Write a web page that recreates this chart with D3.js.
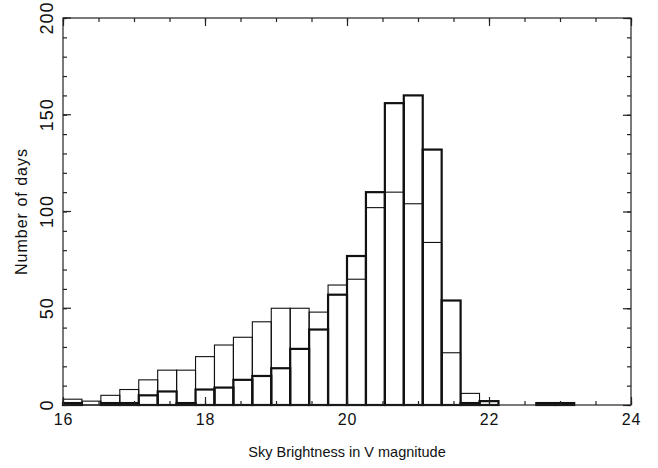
<!DOCTYPE html>
<html>
<head>
<meta charset="utf-8">
<script src="https://cdn.jsdelivr.net/npm/d3@7"></script>
<style>
  body { margin: 0; background: #fff; }
  text { font-family: "Liberation Sans", Arial, sans-serif; fill: #111; }
</style>
</head>
<body>
<svg width="658" height="468"></svg>
<script>
const width = 658;
const height = 468;
const margin = { top: 18, right: 27, bottom: 63, left: 63 };

// 30 bins between 16 and 24 mag
const binStart = 16;
const binEnd = 24;
const binCount = 30;

// thin histogram (broad distribution)
const thinCounts = [3, 2, 5, 8, 13, 18, 18, 25, 31, 35, 43, 50, 50, 48, 62, 65,
  102, 110, 104, 84, 27, 6, 0, 0, 0, 1, 0, 0, 0, 0];
// thick histogram (peaked near 21 mag)
const thickCounts = [1, 0, 1, 1, 5, 7, 1, 8, 9, 13, 15, 19, 29, 39, 57, 77,
  110, 156, 160, 132, 54, 1, 2, 0, 0, 1, 1, 0, 0, 0];

const xTicks = [16, 18, 20, 22, 24];
const yTicks = [0, 50, 100, 150, 200];

const svg = d3.select('svg');

const x = d3.scaleLinear().domain([16, 24]).range([margin.left, width - margin.right]);
const y = d3.scaleLinear().domain([0, 200]).range([height - margin.bottom, margin.top]);

const edges = d3.range(binCount + 1).map(i => binStart + i * (binEnd - binStart) / binCount);

function bars(counts, cls, strokeWidth) {
  svg.append('g')
    .attr('class', cls)
    .selectAll('rect')
    .data(counts.map((c, i) => ({ x0: edges[i], x1: edges[i + 1], c: c })))
    .enter()
    .append('rect')
    .attr('x', d => x(d.x0))
    .attr('y', d => y(d.c))
    .attr('width', d => x(d.x1) - x(d.x0))
    .attr('height', d => y(0) - y(d.c))
    .attr('fill', 'none')
    .attr('stroke', '#111')
    .attr('stroke-width', strokeWidth);
}

bars(thinCounts, 'thin', 1.1);
bars(thickCounts, 'thick', 2.2);

// frame
svg.append('rect')
  .attr('x', x(16))
  .attr('y', y(200))
  .attr('width', x(24) - x(16))
  .attr('height', y(0) - y(200))
  .attr('fill', 'none')
  .attr('stroke', '#222')
  .attr('stroke-width', 1.2);

const minorX = d3.range(16, 24.01, 0.5);
const minorY = d3.range(0, 200.01, 10);

function axis(gen, pos, ticks, size, labels) {
  const g = svg.append('g')
    .attr('transform', pos)
    .call(gen.tickValues(ticks).tickSize(-size).tickPadding(8)
      .tickFormat(labels ? d3.format('d') : ''));
  g.select('.domain').remove();
  g.selectAll('line').attr('stroke', '#222').attr('stroke-width', 1.2);
  return g;
}

const posBottom = `translate(0,${y(0)})`;
const posTop = `translate(0,${y(200)})`;
const posLeft = `translate(${x(16)},0)`;
const posRight = `translate(${x(24)},0)`;

axis(d3.axisBottom(x), posBottom, minorX, 4, false);
axis(d3.axisTop(x), posTop, minorX, 4, false);
axis(d3.axisLeft(y), posLeft, minorY, 4, false);
axis(d3.axisRight(y), posRight, minorY, 4, false);

const xAxis = axis(d3.axisBottom(x), posBottom, xTicks, 8, true);
xAxis.selectAll('text')
  .attr('font-size', 16)
  .attr('letter-spacing', 0.8)
  .attr('dy', '0.72em');
axis(d3.axisTop(x), posTop, xTicks, 8, false);

const yAxis = axis(d3.axisLeft(y), posLeft, yTicks, 8, true);
yAxis.selectAll('text')
  .attr('font-size', 18)
  .attr('letter-spacing', 1)
  .attr('text-anchor', 'middle')
  .attr('x', null)
  .attr('dy', null)
  .attr('transform', d => `translate(-10,${y(d)}) rotate(-90)`);
yAxis.selectAll('.tick').attr('transform', null);
yAxis.selectAll('.tick line').attr('transform', d => `translate(0,${y(d)})`);
axis(d3.axisRight(y), posRight, yTicks, 8, false);

svg.append('text')
  .attr('x', (x(16) + x(24)) / 2)
  .attr('y', 457)
  .attr('text-anchor', 'middle')
  .attr('font-size', 14.5)
  .text('Sky Brightness in V magnitude');

svg.append('text')
  .attr('transform', `translate(27,${(y(0) + y(200)) / 2}) rotate(-90)`)
  .attr('text-anchor', 'middle')
  .attr('font-size', 16)
  .attr('letter-spacing', 1)
  .text('Number of days');
</script>
</body>
</html>
